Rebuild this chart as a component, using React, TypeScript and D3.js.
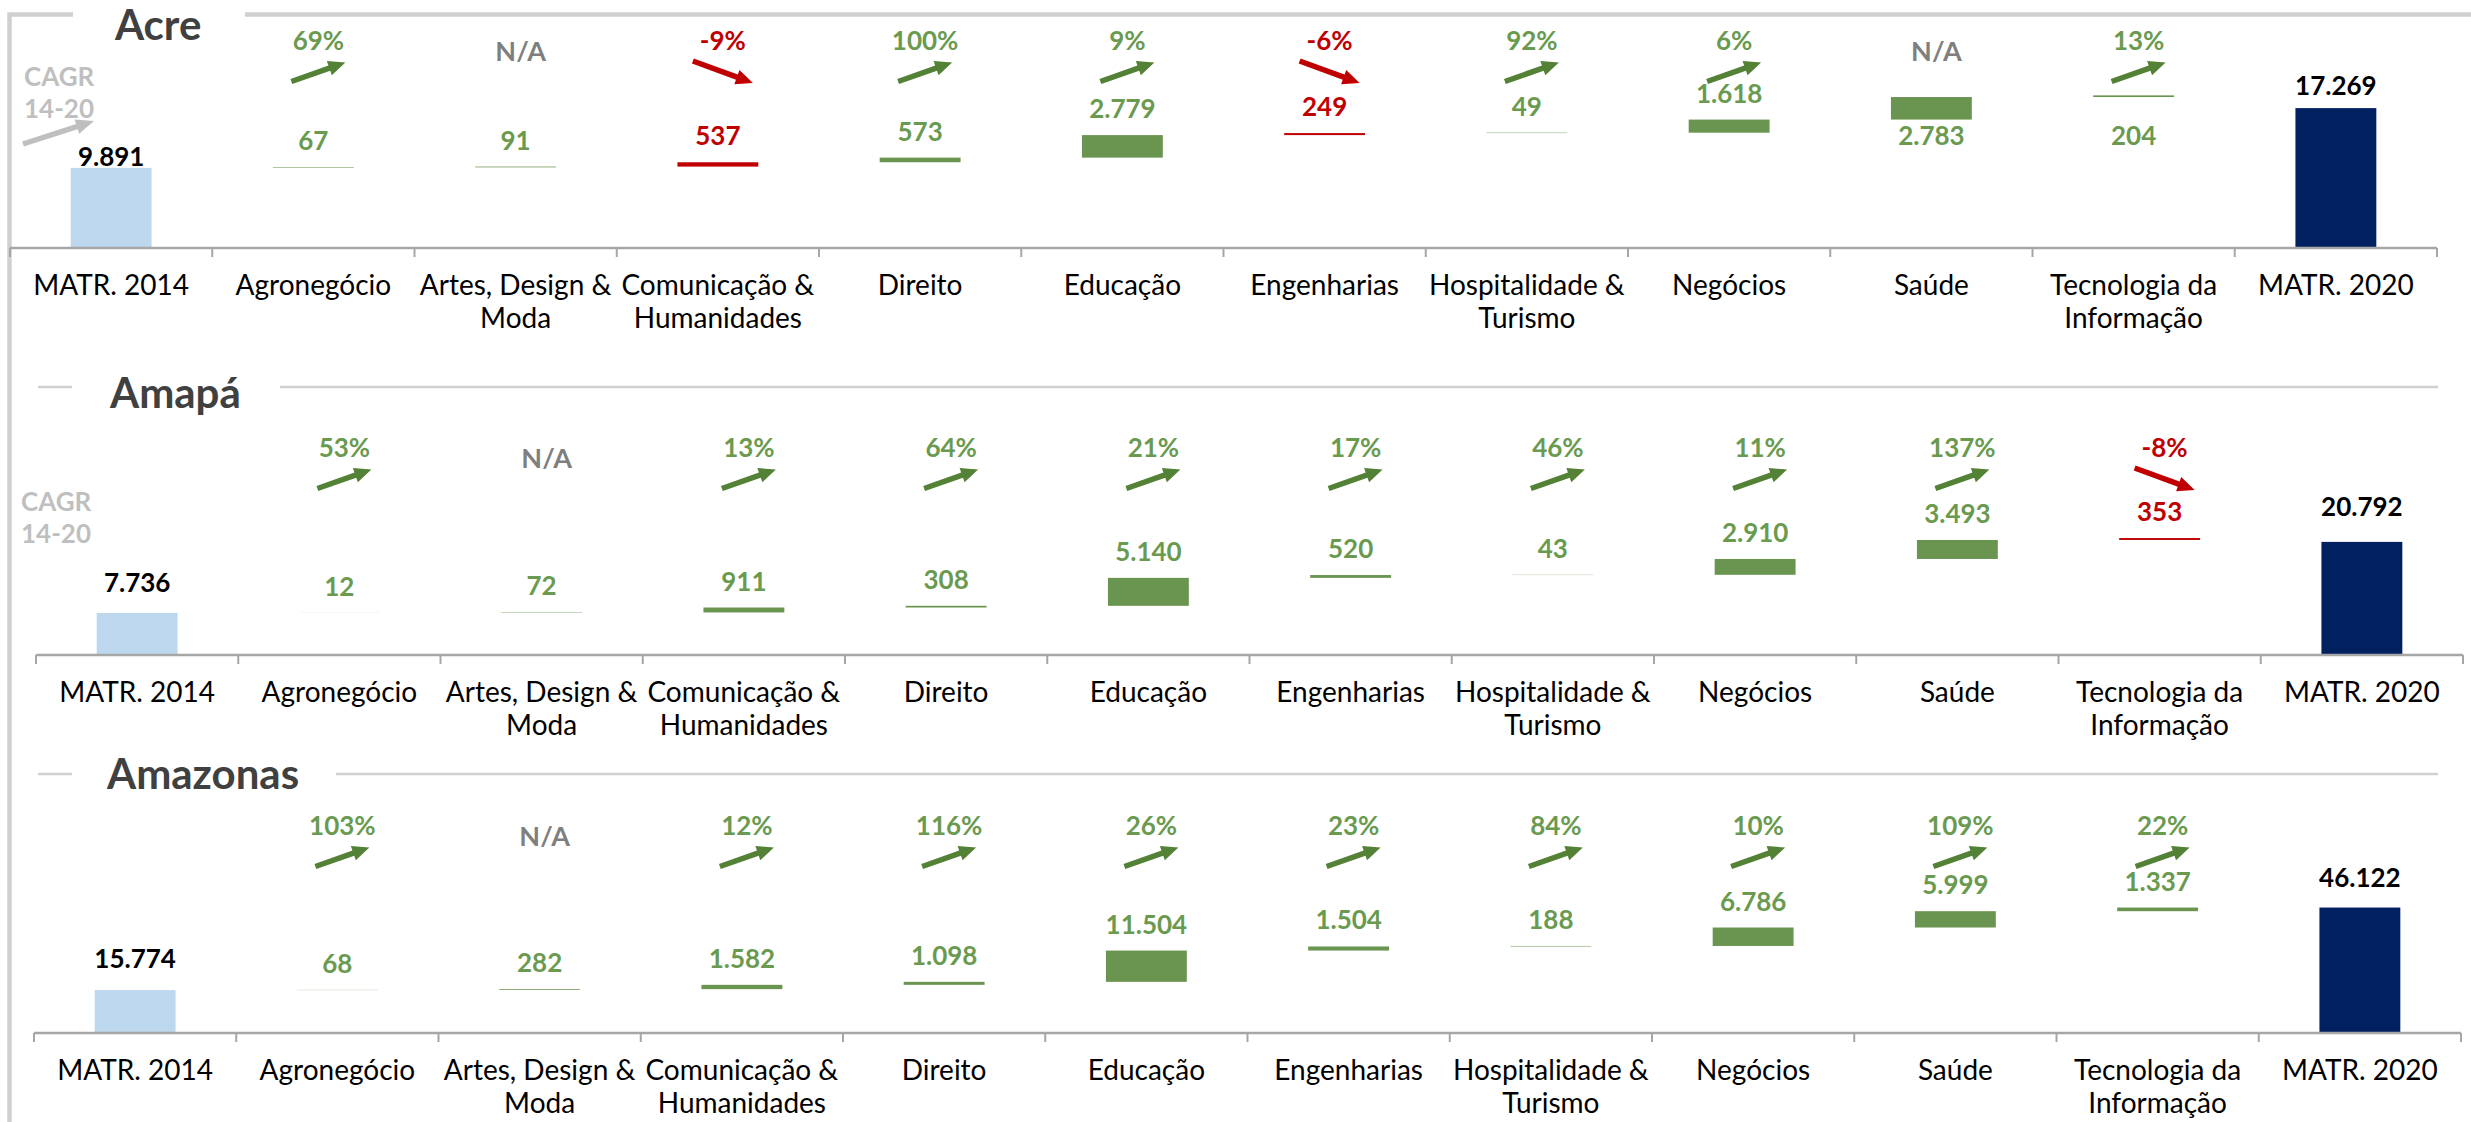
import React from "react";
import * as d3 from "d3";

// ---------- DATA ----------
const categoryLines: string[][] = [
  ["MATR. 2014"],
  ["Agronegócio"],
  ["Artes, Design &", "Moda"],
  ["Comunicação &", "Humanidades"],
  ["Direito"],
  ["Educação"],
  ["Engenharias"],
  ["Hospitalidade &", "Turismo"],
  ["Negócios"],
  ["Saúde"],
  ["Tecnologia da", "Informação"],
  ["MATR. 2020"],
];
const categories = categoryLines.map((l) => l.join(" "));

const states = ["Acre", "Amapá", "Amazonas"];

// first = MATR. 2014 total, middle = change per area, last = MATR. 2020 total
const acreValues = [9891, 67, 91, -537, 573, 2779, -249, 49, 1618, 2783, 204, 17269];
const amapaValues = [7736, 12, 72, 911, 308, 5140, 520, 43, 2910, 3493, -353, 20792];
const amazonasValues = [15774, 68, 282, 1582, 1098, 11504, 1504, 188, 6786, 5999, 1337, 46122];

// CAGR 14-20 for the ten areas (null = N/A)
const acreCagr = [0.69, null, -0.09, 1.0, 0.09, -0.06, 0.92, 0.06, null, 0.13];
const amapaCagr = [0.53, null, 0.13, 0.64, 0.21, 0.17, 0.46, 0.11, 1.37, -0.08];
const amazonasCagr = [1.03, null, 0.12, 1.16, 0.26, 0.23, 0.84, 0.1, 1.09, 0.22];

const yMaxima = [30000, 50000, 100000];

// ---------- STYLE ----------
const FONT = "Lato, 'Open Sans', 'DejaVu Sans', sans-serif";
const C = {
  start: "#BDD7EE",
  end: "#002060",
  up: "#6A9550",
  upText: "#6A9A4F",
  arrowUp: "#538135",
  down: "#C00000",
  na: "#7F7F7F",
  frame: "#D0D0D0",
  axis: "#A6A6A6",
  title: "#404040",
  cagr: "#BFBFBF",
};

const ptBR = d3.formatLocale({
  decimal: ",",
  thousands: ".",
  grouping: [3],
  currency: ["R$", ""],
});
const fmt = ptBR.format(",d");
const pctAbs = d3.format(".0%");
const pct = (g: number) => (g < 0 ? "-" : "") + pctAbs(Math.abs(g));

function arrowPath(x1: number, y1: number, x2: number, y2: number, shaftW = 5.5, headL = 17, headW = 15) {
  const dx = x2 - x1, dy = y2 - y1;
  const L = Math.hypot(dx, dy);
  const ux = dx / L, uy = dy / L;
  const nx = -uy, ny = ux;
  const bx = x2 - ux * headL, by = y2 - uy * headL;
  const p = d3.path();
  p.moveTo(x1 + (nx * shaftW) / 2, y1 + (ny * shaftW) / 2);
  p.lineTo(bx + (nx * shaftW) / 2, by + (ny * shaftW) / 2);
  p.lineTo(bx + (nx * headW) / 2, by + (ny * headW) / 2);
  p.lineTo(x2, y2);
  p.lineTo(bx - (nx * headW) / 2, by - (ny * headW) / 2);
  p.lineTo(bx - (nx * shaftW) / 2, by - (ny * shaftW) / 2);
  p.lineTo(x1 - (nx * shaftW) / 2, y1 - (ny * shaftW) / 2);
  p.closePath();
  return p.toString();
}

type PanelCfg = {
  name: string;
  values: number[];
  cagr: (number | null)[];
  yMax: number;
  x0: number;
  axisY: number;
  plotH: number;
  titleX: number;
  titleBase: number;
  lineY: number;
  lineStartX: number;
  gapStart: number;
  gapEnd: number;
  lineEnd: number;
  lineW: number;
  startGap: number;
  endGap: number;
  cagrText: { x: number; y: number } | null;
  cagrArrow: boolean;
};

const panels: PanelCfg[] = [
  {
    name: states[0], values: acreValues, cagr: acreCagr, yMax: yMaxima[0],
    x0: 10, axisY: 248, plotH: 243,
    titleX: 115, titleBase: 40, lineY: 14.5, lineStartX: 9.5, gapStart: 73, gapEnd: 245, lineEnd: 2471, lineW: 4.5,
    startGap: 2, endGap: 13,
    cagrText: { x: 24, y: 86 }, cagrArrow: true,
  },
  {
    name: states[1], values: amapaValues, cagr: amapaCagr, yMax: yMaxima[1],
    x0: 36, axisY: 655, plotH: 272,
    titleX: 110, titleBase: 408, lineY: 387, lineStartX: 38, gapStart: 72, gapEnd: 280, lineEnd: 2438, lineW: 2.5,
    startGap: 21, endGap: 26,
    cagrText: { x: 21, y: 511 }, cagrArrow: false,
  },
  {
    name: states[2], values: amazonasValues, cagr: amazonasCagr, yMax: yMaxima[2],
    x0: 34, axisY: 1033, plotH: 272,
    titleX: 107, titleBase: 789, lineY: 774, lineStartX: 38, gapStart: 72, gapEnd: 336, lineEnd: 2438, lineW: 2.5,
    startGap: 22, endGap: 21,
    cagrText: null, cagrArrow: false,
  },
];

function Panel({ cfg }: { cfg: PanelCfg }) {
  const width = 2427;
  const x = d3
    .scaleBand<string>()
    .domain(categories)
    .range([cfg.x0, cfg.x0 + width])
    .paddingInner(0.6)
    .paddingOuter(0.3);
  const y = d3.scaleLinear().domain([0, cfg.yMax]).range([cfg.axisY, cfg.axisY - cfg.plotH]);
  const step = x.step();
  const bw = x.bandwidth();
  const n = categories.length;

  // waterfall segments (the source chart stacks every change by its size)
  let running = cfg.values[0];
  const segs = cfg.values.map((v, i) => {
    if (i === 0 || i === n - 1) {
      return { i, lo: 0, hi: v, v, kind: i === 0 ? "start" : "end" };
    }
    const base = running;
    running += Math.abs(v);
    return { i, lo: base, hi: running, v, kind: v >= 0 ? "up" : "down" };
  });

  const boundaries = d3.range(n + 1).map((k) => cfg.x0 + k * step);
  const pctY = cfg.axisY - 198;
  const naY = cfg.axisY - 187;
  const arrowY = cfg.axisY - 176;

  return (
    <g>
      {/* title lines */}
      <line x1={cfg.lineStartX} x2={cfg.gapStart} y1={cfg.lineY} y2={cfg.lineY} stroke={C.frame} strokeWidth={cfg.lineW} />
      <line x1={cfg.gapEnd} x2={cfg.lineEnd} y1={cfg.lineY} y2={cfg.lineY} stroke={C.frame} strokeWidth={cfg.lineW} />
      <text x={cfg.titleX} y={cfg.titleBase} fontFamily={FONT} fontWeight={700} fontSize={42} fill={C.title}>
        {cfg.name}
      </text>

      {/* bars */}
      {segs.map((s) => {
        const cx = (x(categories[s.i]) as number) + bw / 2;
        const top = y(s.hi);
        const bot = y(s.lo);
        const fill = s.kind === "start" ? C.start : s.kind === "end" ? C.end : s.kind === "up" ? C.up : C.down;
        return <rect key={"b" + s.i} x={cx - bw / 2} y={top} width={bw} height={Math.max(bot - top, 0.01)} fill={fill} />;
      })}

      {/* value labels */}
      {segs.map((s) => {
        const cx = (x(categories[s.i]) as number) + bw / 2;
        const top = y(s.hi);
        let ty: number;
        let color: string;
        if (s.kind === "start") {
          ty = top - cfg.startGap;
          color = "#000000";
        } else if (s.kind === "end") {
          ty = top - cfg.endGap;
          color = "#000000";
        } else {
          // labels that would run into the CAGR arrows drop below the bar
          ty = top < cfg.axisY - 140 ? cfg.axisY - 103 : top - 17;
          color = s.kind === "up" ? C.upText : C.down;
        }
        return (
          <text key={"l" + s.i} x={cx} y={ty} textAnchor="middle" fontFamily={FONT} fontWeight={700} fontSize={26} fill={color}>
            {fmt(Math.abs(s.v))}
          </text>
        );
      })}

      {/* CAGR row */}
      {cfg.cagr.map((g, k) => {
        const cat = categories[k + 1];
        const cx = (x(cat) as number) + bw / 2 + 5;
        if (g === null) {
          return (
            <text key={"c" + k} x={cx} y={naY} textAnchor="middle" fontFamily={FONT} fontWeight={700} fontSize={27} fill={C.na}>
              N/A
            </text>
          );
        }
        const up = g >= 0;
        const col = up ? C.arrowUp : C.down;
        const d = up
          ? arrowPath(cx - 27, arrowY + 9.5, cx + 27, arrowY - 9.5)
          : arrowPath(cx - 30, arrowY - 11, cx + 30, arrowY + 11);
        return (
          <g key={"c" + k}>
            <text x={cx} y={pctY} textAnchor="middle" fontFamily={FONT} fontWeight={700} fontSize={26} fill={up ? C.upText : C.down}>
              {pct(g)}
            </text>
            <path d={d} fill={col} />
          </g>
        );
      })}

      {/* CAGR legend */}
      {cfg.cagrText && (
        <text fontFamily={FONT} fontWeight={700} fontSize={26} fill={C.cagr}>
          <tspan x={cfg.cagrText.x} y={cfg.cagrText.y}>CAGR</tspan>
          <tspan x={cfg.cagrText.x} y={cfg.cagrText.y + 32}>14-20</tspan>
        </text>
      )}
      {cfg.cagrArrow && <path d={arrowPath(23, 144, 94, 121, 5.5, 18, 15)} fill={C.cagr} />}

      {/* axis */}
      <line x1={cfg.x0} x2={cfg.x0 + width} y1={cfg.axisY} y2={cfg.axisY} stroke={C.axis} strokeWidth={2.5} />
      {boundaries.map((bx, k) => (
        <line key={"t" + k} x1={bx} x2={bx} y1={cfg.axisY} y2={cfg.axisY + 9} stroke={C.axis} strokeWidth={2} />
      ))}
      {categoryLines.map((lines, k) => {
        const cx = (x(categories[k]) as number) + bw / 2;
        return (
          <text key={"a" + k} textAnchor="middle" fontFamily={FONT} fontSize={28} fill="#000000">
            {lines.map((ln, j) => (
              <tspan key={j} x={cx} y={cfg.axisY + 47 + j * 33}>
                {ln}
              </tspan>
            ))}
          </text>
        );
      })}
    </g>
  );
}

export default function App() {
  return (
    <svg
      width={2471}
      height={1122}
      viewBox="0 0 2471 1122"
      style={{ position: "absolute", left: 0, top: 0, background: "#ffffff" }}
    >
      <rect x={0} y={0} width={2471} height={1122} fill="#ffffff" />
      {/* left frame */}
      <line x1={9.5} x2={9.5} y1={12.5} y2={1122} stroke={C.frame} strokeWidth={4.5} />
      {panels.map((p) => (
        <Panel key={p.name} cfg={p} />
      ))}
    </svg>
  );
}
